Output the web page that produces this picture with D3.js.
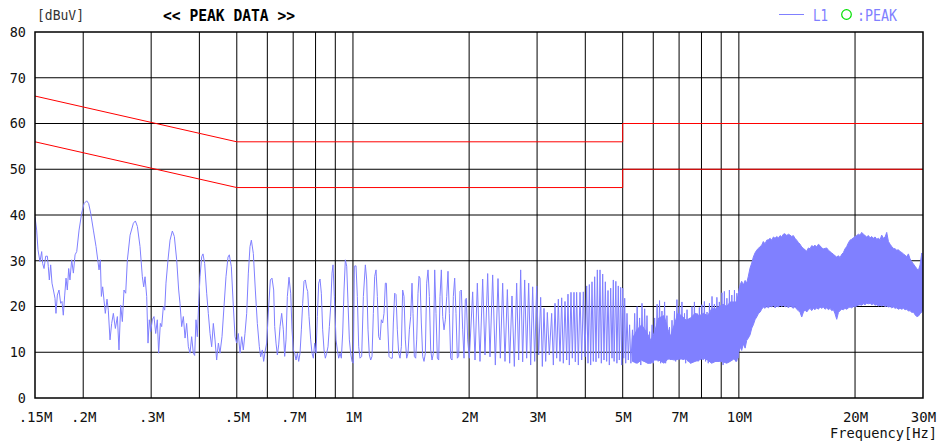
<!DOCTYPE html>
<html>
<head>
<meta charset="utf-8">
<script src="https://cdn.jsdelivr.net/npm/d3@7"></script>
<style>
  html, body { margin: 0; padding: 0; background: #fff; }
  svg { display: block; }
  text { font-family: "DejaVu Sans Mono", "Liberation Mono", monospace; }
</style>
</head>
<body>
<svg id="chart" width="941" height="443"></svg>
<script>
// ---- axes ----
const levelTicks = [0, 10, 20, 30, 40, 50, 60, 70, 80];
const freqTickValues = [0.15, 0.2, 0.3, 0.5, 0.7, 1, 2, 3, 5, 7, 10, 20, 30];
const freqTickLabels = [".15M", ".2M", ".3M", ".5M", ".7M", "1M", "2M", "3M", "5M", "7M", "10M", "20M", "30M"];
const freqGrid = [0.2, 0.3, 0.4, 0.5, 0.6, 0.7, 0.8, 0.9, 1, 2, 3, 4, 5, 6, 7, 8, 9, 10, 20];
const levelGrid = [10, 20, 30, 40, 50, 60, 70];

// ---- limit lines (MHz, dBuV) ----
const qpLimit = [[0.15, 66], [0.5, 56], [5, 56], [5, 60], [30, 60]];
const avLimit = [[0.15, 56], [0.5, 46], [5, 46], [5, 50], [30, 50]];

// ---- L1 peak sweep, 0.15 MHz .. 10 MHz : [MHz, dBuV] ----
const traceL1 = [
  [0.150,39.6],[0.1515,36.7],[0.1527,32.4],[0.1545,29.8],[0.1561,32.0],[0.1570,29.4],[0.1583,28.3],[0.1599,31.0],
  [0.1615,31.0],[0.1624,28.7],[0.1634,25.8],[0.1647,29.1],[0.1660,25.1],[0.1674,23.6],[0.1690,21.8],[0.1700,18.5],
  [0.1714,22.5],[0.1731,23.6],[0.1748,20.7],[0.1762,21.1],[0.1776,18.1],[0.1791,22.5],[0.1805,26.2],[0.1819,23.6],
  [0.1834,28.3],[0.1848,25.8],[0.1867,30.2],[0.1886,27.3],[0.1905,31.3],[0.1924,32.0],[0.1951,36.7],[0.1982,40.4],
  [0.2010,42.5],[0.2042,43.1],[0.2066,42.5],[0.2091,40.4],[0.2125,36.7],[0.2159,33.1],[0.2181,30.2],[0.2198,28.0],
  [0.2215,30.2],[0.2229,22.2],[0.2246,24.3],[0.2264,21.4],[0.2282,18.5],[0.2305,21.6],[0.2323,19.2],[0.2347,12.7],
  [0.2370,16.3],[0.2394,18.5],[0.2423,15.2],[0.2452,17.8],[0.2476,10.5],[0.2501,20.3],[0.2526,16.7],[0.2551,23.6],
  [0.2577,22.9],[0.2603,30.2],[0.2645,35.6],[0.2698,38.2],[0.2730,38.7],[0.2763,37.5],[0.2807,33.1],[0.2846,26.5],
  [0.2869,24.3],[0.2892,26.5],[0.2921,22.2],[0.2944,12.0],[0.2967,17.1],[0.2991,14.5],[0.3021,17.1],[0.3051,17.8],
  [0.3082,14.1],[0.3112,17.1],[0.3137,9.8],[0.3169,16.3],[0.3194,15.6],[0.3226,20.0],[0.3252,19.2],[0.3277,25.1],
  [0.3317,30.2],[0.3357,34.5],[0.3404,36.5],[0.3445,35.3],[0.3493,30.2],[0.3535,23.6],[0.3563,20.7],[0.3599,15.6],
  [0.3635,17.8],[0.3672,13.1],[0.3707,16.3],[0.3745,11.2],[0.3782,9.8],[0.3820,13.4],[0.3858,9.8],[0.3889,9.3],
  [0.3920,17.1],[0.3951,13.4],[0.3983,20.7],[0.4015,26.5],[0.4056,30.9],[0.4087,31.5],[0.4128,29.4],[0.4178,22.9],
  [0.4219,18.5],[0.4262,14.1],[0.4304,11.2],[0.4347,16.3],[0.4391,12.7],[0.4434,8.3],[0.4480,12.0],[0.4523,9.8],
  [0.4578,13.4],[0.4633,20.0],[0.4688,26.5],[0.4745,30.8],[0.4782,31.3],[0.4840,28.7],[0.4898,20.0],[0.4948,13.4],
  [0.4997,12.0],[0.5046,14.1],[0.5097,9.8],[0.5148,13.4],[0.5199,10.5],[0.5251,14.1],[0.5304,18.5],[0.5357,27.3],
  [0.5410,33.1],[0.5454,34.5],[0.5519,31.6],[0.5585,23.6],[0.5652,16.3],[0.5720,11.2],[0.5766,9.0],[0.5823,10.5],
  [0.5870,8.0],[0.5917,10.1],[0.5976,12.0],[0.6048,20.0],[0.6108,25.8],[0.6169,26.2],[0.6231,23.6],
  [0.6269,15.6],[0.6319,12.0],[0.6369,9.4],[0.6420,11.6],[0.6472,15.6],[0.6536,18.5],[0.6601,14.9],[0.6654,9.1],
  [0.6707,12.7],[0.6761,22.2],[0.6828,26.4],[0.6897,22.9],[0.6951,14.9],[0.7007,10.5],[0.7063,9.8],[0.7119,8.3],
  [0.7177,9.8],[0.7234,8.0],[0.7292,9.8],[0.7350,14.9],[0.7409,20.7],[0.7467,25.5],[0.7527,25.8],[0.7587,24.0],
  [0.7633,23.3],[0.7694,17.8],[0.7771,12.7],[0.7833,9.8],[0.7896,8.7],[0.7958,12.0],[0.8022,9.8],[0.8086,17.8],
  [0.8150,25.1],[0.8216,26.0],[0.8281,22.9],[0.8347,14.9],[0.8415,10.5],[0.8481,8.7],[0.8549,9.8],[0.8617,11.2],
  [0.8686,15.6],[0.8755,20.0],[0.8825,27.3],[0.8878,29.1],[0.8949,22.2],[0.9039,12.7],[0.9111,10.5],[0.9184,8.7],
  [0.9257,9.8],[0.9331,8.7],[0.9406,14.2],[0.9481,23.6],[0.9556,30.2],[0.9634,28.8],[0.9710,20.7],[0.9788,12.7],
  [0.9865,9.8],[0.9944,8.0],[1.0024,7.6],[1.0083,28.8],[1.0185,28.9],[1.0265,22.2],[1.0348,11.2],[1.0431,8.7],
  [1.0535,9.1],[1.0641,22.2],[1.0768,29.1],[1.0853,25.8],[1.0941,14.9],[1.1027,9.4],[1.1116,8.3],[1.1205,9.1],
  [1.1294,18.5],[1.1385,26.6],[1.1475,28.0],[1.1567,22.2],[1.1658,13.4],[1.1754,12.7],[1.1845,17.1],[1.1940,16.4],
  [1.2036,18.5],[1.2132,25.1],[1.2205,25.1],[1.2301,16.4],[1.2400,9.1],[1.2524,8.7],[1.2650,8.7],[1.2724,16.4],
  [1.2827,22.9],[1.2929,22.6],[1.3032,14.9],[1.3137,9.8],[1.3241,8.7],[1.3348,11.2],[1.3453,23.6],[1.3561,22.2],
  [1.3669,12.7],[1.3779,8.7],[1.3889,9.8],[1.4000,14.9],[1.4112,17.8],[1.4224,25.1],[1.4310,18.5],[1.4423,9.1],
  [1.4539,8.7],[1.4626,12.7],[1.4742,22.9],[1.4831,26.6],[1.4920,26.2],[1.5039,16.4],[1.5160,9.1],[1.5280,8.0],
  [1.5403,9.8],[1.5525,25.1],[1.5650,28.0],[1.5774,22.2],[1.5901,10.5],[1.6029,8.3],[1.6155,9.8],[1.6285,28.0],
  [1.6414,18.5],[1.6546,8.7],[1.6677,8.3],[1.6811,22.2],[1.6945,28.0],[1.7081,17.8],[1.7217,14.9],[1.7355,17.1],
  [1.7498,22.2],[1.7632,27.7],[1.7774,18.5],[1.7915,8.7],[1.8059,8.3],[1.8202,22.2],[1.8348,26.2],[1.8494,18.5],
  [1.8642,8.7],[1.8792,9.1],[1.8941,23.3],[1.9093,23.6],[1.9245,14.9],[1.9399,8.7],[1.9553,21.5],[1.9671,21.8],
  [1.9829,12.7],[2.0026,8.7],
  [2.0426,23.2],[2.0713,8.3],[2.1003,25.1],[2.1340,8.0],[2.1682,26.0],[2.1986,9.4],[2.2339,27.2],[2.2653,9.0],
  [2.3015,26.9],[2.3385,7.2],[2.3761,26.1],[2.4093,8.7],[2.4430,25.1],[2.4772,8.0],[2.5122,23.7],[2.5472,7.6],
  [2.5829,22.3],[2.6191,6.9],[2.6558,25.1],[2.6877,8.3],[2.7200,28.0],[2.7526,7.9],[2.7858,25.8],[2.8192,8.7],
  [2.8529,25.1],[2.8873,7.2],[2.9219,24.3],[2.9569,8.0],[2.9925,24.5],[3.0285,9.4],[3.0647,22.0],[3.0954,6.9],
  [3.1262,19.6],[3.1577,8.0],[3.1891,18.7],[3.2273,9.4],[3.2727,18.5],[3.3057,7.2],[3.3385,20.7],[3.3718,8.7],
  [3.4054,21.6],[3.4396,8.0],[3.4740,21.9],[3.5088,7.6],[3.5437,21.1],[3.5791,8.3],[3.6075,22.7],[3.6364,7.2],
  [3.6726,23.1],[3.7019,8.7],[3.7389,23.1],[3.7689,7.9],[3.7988,23.1],[3.8370,7.2],[3.8756,23.1],[3.9144,8.3],
  [3.9534,23.2],[3.9931,9.0],[4.0333,24.5],[4.0652,7.6],[4.0976,24.8],[4.1302,7.2],[4.1631,25.4],[4.1965,8.0],
  [4.2297,26.5],[4.2638,7.9],[4.2976,28.0],[4.3322,8.7],[4.3670,28.0],[4.4016,7.6],[4.4369,27.1],[4.4719,8.3],
  [4.5081,25.4],[4.5439,8.0],[4.5805,23.5],[4.6167,7.2],[4.6539,24.0],[4.6909,8.7],[4.7283,25.8],[4.7500,8.0],
  [4.8000,25.5],[4.8300,7.6],[4.8700,24.5],[4.9000,8.3],[4.9400,24.2],[4.9700,7.2],[5.0000,24.0],[5.0300,8.7],
  [5.0600,21.8],[5.0900,7.6],[5.1300,18.5],[5.1700,8.3],[5.2100,16.0],[5.2500,7.6],[5.3000,14.9],[5.3300,8.0],
  [5.37,18.5],[5.41,7.6],[5.45,20.0],[5.49,8.3],[5.53,17.5],[5.57,7.2],[5.61,20.7],[5.65,8.0],
  [5.70,19.5],[5.74,8.7],[5.78,18.0],[5.82,7.6],[5.87,14.5],[5.91,8.3],[5.96,16.0],[6.00,7.6],
  [6.05,17.5],[6.09,8.7],[6.14,20.5],[6.18,8.0],[6.23,21.3],[6.27,7.6],[6.32,19.0],[6.37,8.3],
  [6.42,21.0],[6.46,7.6],[6.51,18.0],[6.56,9.1],[6.61,15.5],[6.66,8.3],[6.71,17.0],[6.76,8.7],
  [6.81,19.0],[6.86,8.0],[6.91,21.5],[6.96,8.3],[7.02,20.0],[7.07,9.1],[7.12,21.0],[7.17,8.3],
  [7.23,18.5],[7.28,7.6],[7.34,19.3],[7.39,8.0],[7.45,17.5],[7.50,7.6],[7.56,20.0],[7.61,8.3],
  [7.67,21.0],[7.73,8.7],[7.79,18.5],[7.84,8.0],[7.90,19.8],[7.96,8.7],[8.02,20.4],[8.08,8.3],
  [8.14,21.1],[8.20,8.0],[8.27,18.8],[8.33,7.6],[8.39,20.7],[8.45,8.0],[8.52,22.2],[8.58,8.3],
  [8.64,20.5],[8.71,7.9],[8.77,22.0],[8.84,8.0],[8.90,21.0],[8.97,7.9],[9.04,23.0],[9.10,7.2],
  [9.17,23.3],[9.24,8.7],[9.31,21.8],[9.38,7.9],[9.45,23.6],[9.52,8.3],[9.59,22.5],[9.66,9.1],
  [9.74,23.6],[9.81,8.0],[9.88,22.9],[9.95,8.7],[10.03,24.0]
];

// ---- L1 dense band, 5.3 MHz .. 30 MHz : [MHz, lowest dBuV, highest dBuV] ----
const bandL1 = [
  [5.30,8.0,13.0],[5.45,7.6,15.0],[5.60,8.3,16.0],[5.80,7.6,14.0],[5.92,7.6,12.5],[6.05,8.3,14.5],
  [6.20,8.3,17.5],[6.40,7.6,18.0],[6.55,8.5,15.0],[6.65,8.5,13.5],[6.80,8.3,16.0],[6.95,8.5,18.5],
  [7.10,8.5,18.0],[7.30,8.5,17.0],[7.50,7.6,17.5],[7.70,8.0,18.5],[7.90,8.3,18.0],[8.10,8.7,18.5],
  [8.30,8.3,18.0],[8.50,7.6,19.5],[8.70,8.0,19.5],[8.90,8.0,20.0],[9.10,7.9,20.5],[9.30,7.6,20.0],
  [9.50,8.0,21.0],[9.70,8.5,21.0],[9.87,8.0,21.0],
  [10.07,11.2,24.7],[10.17,10.4,25.5],[10.27,11.8,24.7],[10.38,10.9,25.7],[10.48,12.6,25.1],[10.58,13.1,26.6],
  [10.69,13.8,28.4],[10.80,15.3,29.5],[10.90,16.0,30.8],[11.01,17.1,31.7],[11.12,17.7,32.3],[11.23,18.4,32.7],
  [11.35,18.8,33.1],[11.46,19.4,33.4],[11.57,19.9,34.2],[11.69,19.6,33.7],[11.81,20.0,34.5],[11.93,19.7,34.6],
  [12.05,20.1,34.9],[12.17,19.9,34.5],[12.29,20.3,35.2],[12.41,19.7,34.9],[12.53,20.1,35.3],[12.66,19.9,35.0],
  [12.79,20.3,35.5],[12.91,20.0,35.2],[13.04,20.3,35.8],[13.17,19.9,35.9],[13.30,20.1,35.5],[13.44,19.7,35.8],
  [13.57,20.1,35.6],[13.71,19.9,35.3],[13.84,19.6,35.5],[13.98,20.0,34.9],[14.12,19.4,34.5],[14.26,19.1,34.0],
  [14.41,18.7,33.6],[14.55,17.7,33.0],[14.70,18.8,32.7],[14.84,19.3,32.4],[14.99,18.8,32.1],[15.14,19.3,32.8],
  [15.29,19.6,32.6],[15.44,19.1,33.3],[15.60,19.6,33.1],[15.75,19.3,33.4],[15.91,19.7,33.0],[16.07,19.4,33.6],
  [16.23,19.9,33.3],[16.39,19.6,32.8],[16.56,19.9,32.6],[16.72,19.4,32.7],[16.89,19.7,32.8],[17.06,19.3,32.3],
  [17.23,19.6,32.0],[17.40,19.1,31.7],[17.58,19.3,31.4],[17.75,18.4,31.1],[17.93,17.2,30.8],[18.11,18.7,31.1],
  [18.29,19.1,30.7],[18.47,19.4,31.4],[18.66,19.3,31.8],[18.84,19.6,32.6],[19.03,19.4,33.1],[19.22,19.7,33.9],
  [19.41,19.9,34.5],[19.61,19.7,34.7],[19.80,20.0,35.0],[20.00,19.9,35.3],[20.20,20.1,35.5],[20.40,20.3,35.8],
  [20.60,20.4,35.6],[20.81,20.3,36.2],[21.02,20.6,35.8],[21.23,20.4,35.5],[21.44,20.7,35.2],[21.66,20.6,35.5],
  [21.88,20.7,35.0],[22.09,20.4,35.3],[22.31,20.6,34.9],[22.54,20.3,35.2],[22.76,20.4,34.7],[22.99,20.1,34.9],
  [23.22,20.3,34.6],[23.45,20.1,35.6],[23.69,20.3,34.9],[23.93,20.0,35.2],[24.16,20.1,36.2],[24.41,19.9,34.2],
  [24.65,20.0,33.6],[24.90,19.7,33.1],[25.14,19.9,32.7],[25.40,19.6,32.6],[25.65,19.7,32.3],[25.91,19.4,32.4],
  [26.16,19.6,32.0],[26.43,19.4,31.8],[26.69,19.6,31.5],[26.96,19.3,31.2],[27.23,19.4,30.9],[27.50,19.0,31.5],
  [27.77,19.1,30.4],[28.05,18.7,29.8],[28.33,18.8,29.3],[28.61,18.2,28.8],[28.90,17.8,28.3],[29.19,17.9,27.9],
  [29.48,18.4,29.1],[29.78,18.8,31.7],[30.00,19.6,28.2]
];

const traceColor = "#8080ff";
const limitColor = "#ff0000";

const svg = d3.select("#chart");
const plot = { left: 35, right: 923, top: 32, bottom: 398 };

const x = d3.scaleLog().domain([0.15, 30]).range([plot.left, plot.right]);
const y = d3.scaleLinear().domain([0, 80]).range([plot.bottom, plot.top]);

svg.append("defs").append("clipPath").attr("id", "plotClip")
  .append("rect")
  .attr("x", plot.left).attr("y", plot.top)
  .attr("width", plot.right - plot.left).attr("height", plot.bottom - plot.top);

// grid
const grid = svg.append("g").attr("stroke", "#000").attr("stroke-width", 1);
grid.selectAll("line.v").data(freqGrid).join("line").attr("class", "v")
  .attr("x1", d => x(d)).attr("x2", d => x(d))
  .attr("y1", y(0)).attr("y2", y(80));
grid.selectAll("line.h").data(levelGrid).join("line").attr("class", "h")
  .attr("x1", plot.left).attr("x2", plot.right)
  .attr("y1", d => y(d)).attr("y2", d => y(d));

// limit lines
const limitLine = d3.line().x(d => x(d[0])).y(d => y(d[1]));
svg.append("g").selectAll("path").data([qpLimit, avLimit]).join("path")
  .attr("d", limitLine)
  .attr("fill", "none").attr("stroke", limitColor).attr("stroke-width", 1);

// L1 trace
const traces = svg.append("g").attr("clip-path", "url(#plotClip)");
traces.append("path")
  .datum(bandL1)
  .attr("d", d3.area().x(d => x(d[0])).y0(d => y(d[1])).y1(d => y(d[2])))
  .attr("fill", traceColor).attr("stroke", traceColor).attr("stroke-width", 1)
  .attr("stroke-linejoin", "round");
traces.append("path")
  .datum(traceL1)
  .attr("d", d3.line().x(d => x(d[0])).y(d => y(d[1])))
  .attr("fill", "none").attr("stroke", traceColor).attr("stroke-width", 1);

// frame
svg.append("rect")
  .attr("x", plot.left).attr("y", plot.top)
  .attr("width", plot.right - plot.left).attr("height", plot.bottom - plot.top)
  .attr("fill", "none").attr("stroke", "#000").attr("stroke-width", 1.5);

// axes labels
const xAxis = d3.axisBottom(x)
  .tickValues(freqTickValues)
  .tickFormat((d, i) => freqTickLabels[i])
  .tickSize(0).tickPadding(14);
const gx = svg.append("g").attr("transform", `translate(0,${plot.bottom})`).call(xAxis);
gx.select(".domain").remove();
gx.selectAll("text")
  .attr("font-family", "DejaVu Sans Mono, monospace")
  .attr("font-size", 14).attr("fill", "#111");

const yAxis = d3.axisLeft(y).tickValues(levelTicks).tickFormat(d3.format("d"))
  .tickSize(0).tickPadding(9);
const gy = svg.append("g").attr("transform", `translate(${plot.left},0)`).call(yAxis);
gy.select(".domain").remove();
gy.selectAll("text")
  .attr("font-family", "DejaVu Sans Mono, monospace")
  .attr("font-size", 13.5).attr("fill", "#111");

// titles
svg.append("text").attr("x", 37).attr("y", 20)
  .attr("font-size", 14).attr("fill", "#333")
  .attr("textLength", 47).attr("lengthAdjust", "spacingAndGlyphs")
  .text("[dBuV]");
svg.append("text").attr("x", 163).attr("y", 21)
  .attr("font-size", 15).attr("font-weight", "bold").attr("fill", "#000")
  .attr("textLength", 132).attr("lengthAdjust", "spacingAndGlyphs")
  .text("<< PEAK DATA >>");
svg.append("text").attr("x", 937).attr("y", 438)
  .attr("text-anchor", "end")
  .attr("font-size", 14).attr("fill", "#111")
  .attr("textLength", 107).attr("lengthAdjust", "spacingAndGlyphs")
  .text("Frequency[Hz]");

// legend
const legend = svg.append("g");
legend.append("line").attr("x1", 779).attr("x2", 804).attr("y1", 14.5).attr("y2", 14.5)
  .attr("stroke", traceColor).attr("stroke-width", 1);
legend.append("text").attr("x", 813).attr("y", 20.5)
  .attr("font-size", 16).attr("fill", traceColor)
  .attr("textLength", 15).attr("lengthAdjust", "spacingAndGlyphs")
  .text("L1");
legend.append("circle").attr("cx", 846.5).attr("cy", 14.5).attr("r", 4.8)
  .attr("fill", "none").attr("stroke", "#00e000").attr("stroke-width", 1.2);
legend.append("text").attr("x", 857).attr("y", 20.5)
  .attr("font-size", 16).attr("fill", traceColor)
  .attr("textLength", 40).attr("lengthAdjust", "spacingAndGlyphs")
  .text(":PEAK");
</script>
</body>
</html>
